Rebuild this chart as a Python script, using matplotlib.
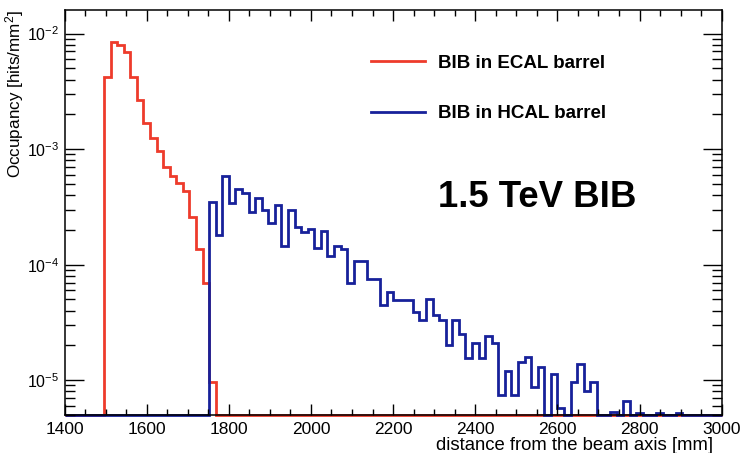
import numpy as np
import matplotlib
matplotlib.use("Agg")
import matplotlib.pyplot as plt
from matplotlib.ticker import MultipleLocator, LogLocator, FuncFormatter, NullFormatter

plt.rcParams['font.family'] = ['Liberation Sans', 'DejaVu Sans']
plt.rcParams['mathtext.fontset'] = 'custom'
plt.rcParams['mathtext.rm'] = 'Liberation Sans'
plt.rcParams['mathtext.it'] = 'Liberation Sans:italic'
plt.rcParams['mathtext.bf'] = 'Liberation Sans:bold'

# histogram binning: 100 bins from 1400 to 3000 mm
x_min, x_max, n_bins = 1400, 3000, 100

# ECAL barrel occupancy, bins from 1496 mm on
ecal_start = 1496
ecal_vals = [4.2e-3, 8.5e-3, 7.9e-3, 6.9e-3, 4.2e-3, 2.65e-3, 1.7e-3, 1.24e-3,
             9.6e-4, 7.0e-4, 5.85e-4, 5.05e-4, 4.37e-4, 2.6e-4, 1.38e-4, 6.9e-5,
             9.6e-6]

# HCAL barrel occupancy, bins from 1752 mm on
hcal_start = 1752
hcal_vals = [3.5e-4, 1.8e-4, 5.85e-4, 3.4e-4, 4.5e-4, 4.2e-4, 2.84e-4, 3.8e-4,
             2.95e-4, 2.3e-4, 3.3e-4, 1.46e-4, 2.97e-4, 2.1e-4, 1.9e-4, 2.02e-4,
             1.39e-4, 1.95e-4, 1.18e-4, 1.45e-4, 1.37e-4, 7.0e-5, 1.08e-4, 1.08e-4,
             7.5e-5, 7.5e-5, 4.5e-5, 5.85e-5, 4.9e-5, 4.9e-5, 4.9e-5, 3.9e-5,
             3.3e-5, 5.0e-5, 3.7e-5, 3.3e-5, 2.0e-5, 3.3e-5, 2.5e-5, 1.55e-5,
             2.12e-5, 1.55e-5, 2.42e-5, 2.1e-5, 7.4e-6, 1.19e-5, 7.4e-6, 1.45e-5,
             1.6e-5, 8.7e-6, 1.3e-5, 0, 1.13e-5, 5.75e-6, 0, 9.7e-6,
             1.39e-5, 8.1e-6, 9.7e-6, 0, 0, 5.3e-6, 0, 6.6e-6,
             0, 5.2e-6, 0, 0, 5.2e-6, 0, 0, 5.2e-6]

labels = ["BIB in ECAL barrel", "BIB in HCAL barrel"]
y_min, y_max = 5e-6, 1.6e-2

edges = np.linspace(x_min, x_max, n_bins + 1)
width = (x_max - x_min) / n_bins


def fill_hist(start, vals):
    h = np.zeros(n_bins)
    i0 = int(round((start - x_min) / width))
    h[i0:i0 + len(vals)] = vals
    # ROOT draws empty bins along the lower frame edge
    return np.where(h > 0, h, y_min)


ecal = fill_hist(ecal_start, ecal_vals)
hcal = fill_hist(hcal_start, hcal_vals)

fig = plt.figure(figsize=(7.44, 4.53), dpi=100)
ax = fig.add_axes([0.0867, 0.0839, 0.8833, 0.8940])

ax.stairs(ecal, edges, baseline=None, color='#ee3b2b', lw=2.0, label=labels[0], clip_on=False)
ax.stairs(hcal, edges, baseline=None, color='#17219a', lw=2.0, label=labels[1], clip_on=False)

ax.set_xlim(x_min, x_max)
ax.set_yscale('log')
ax.set_ylim(y_min, y_max)

ax.xaxis.set_major_locator(MultipleLocator(200))
ax.xaxis.set_minor_locator(MultipleLocator(50))
ax.yaxis.set_major_locator(LogLocator(base=10))
ax.yaxis.set_minor_locator(LogLocator(base=10, subs=np.arange(2, 10)))
ax.yaxis.set_major_formatter(FuncFormatter(lambda v, p: r'$10^{%d}$' % round(np.log10(v))))
ax.yaxis.set_minor_formatter(NullFormatter())

ax.tick_params(axis='both', which='both', direction='in', top=True, right=True, width=1.0)
ax.tick_params(axis='x', which='major', length=8, pad=5, labelsize=12.5)
ax.tick_params(axis='x', which='minor', length=4.3)
ax.tick_params(axis='y', which='major', length=13.7, pad=4, labelsize=11.5)
ax.tick_params(axis='y', which='minor', length=7.2)
for s in ax.spines.values():
    s.set_linewidth(1.1)

ax.set_ylabel(r'Occupancy [hits/mm$^2$]', fontsize=12.3, loc='top')
ax.yaxis.set_label_coords(-0.059, 1.0)
ax.set_xlabel('distance from the beam axis [mm]', fontsize=13.3, loc='right', labelpad=0)
ax.xaxis.label.set_x(0.987)

leg = ax.legend(loc='upper left', bbox_to_anchor=(0.44, 0.932), frameon=False,
                prop={'weight': 'bold', 'size': 13.5}, handlelength=2.9,
                handletextpad=0.7, labelspacing=1.8)

ax.text(0.568, 0.538, '1.5 TeV BIB', transform=ax.transAxes, fontsize=26.4,
        fontweight='bold', ha='left', va='center')

fig.savefig('out.png', dpi=100)
